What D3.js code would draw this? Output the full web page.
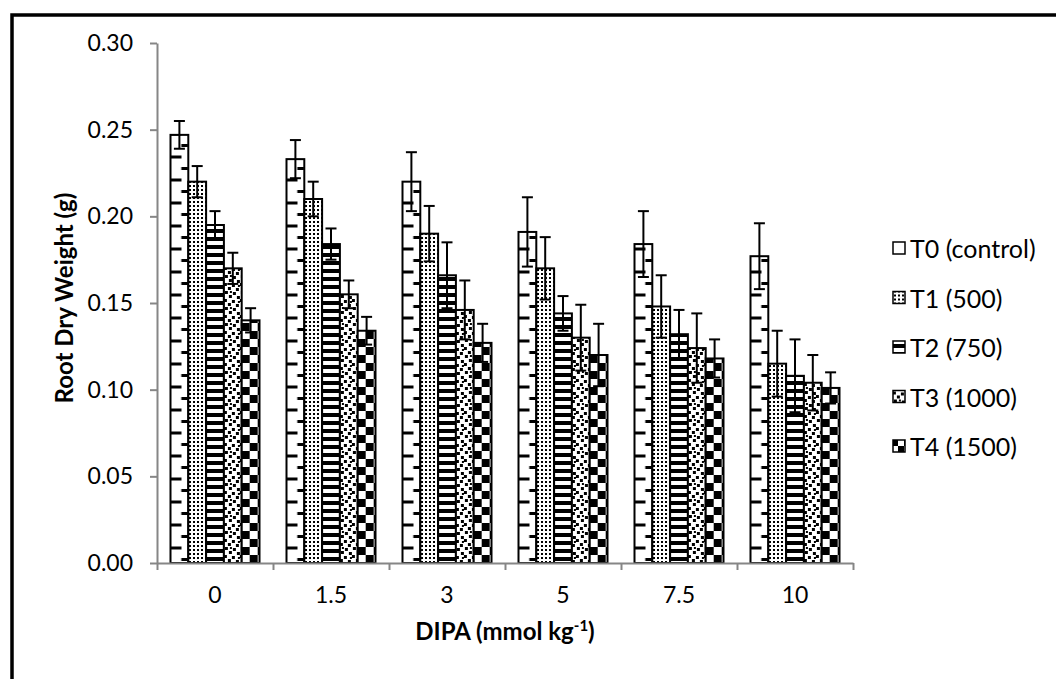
<!DOCTYPE html>
<html>
<head>
<meta charset="utf-8">
<script src="https://cdn.jsdelivr.net/npm/d3@7"></script>
<style>
  body { margin: 0; background: #fff; }
  svg { display: block; }
  text { font-family: Lato, "Open Sans", sans-serif; fill: #000; }
</style>
</head>
<body>
<div id="container"></div>
<script>
// chart data
var categories = ["0", "1.5", "3", "5", "7.5", "10"];
var seriesNames = ["T0 (control)", "T1 (500)", "T2 (750)", "T3 (1000)", "T4 (1500)"];
var T0_mean = [0.247, 0.233, 0.220, 0.191, 0.184, 0.177];
var T0_err  = [0.008, 0.011, 0.017, 0.020, 0.019, 0.019];
var T1_mean = [0.220, 0.210, 0.190, 0.170, 0.148, 0.115];
var T1_err  = [0.009, 0.010, 0.016, 0.018, 0.018, 0.019];
var T2_mean = [0.195, 0.184, 0.166, 0.144, 0.132, 0.108];
var T2_err  = [0.008, 0.009, 0.019, 0.010, 0.014, 0.021];
var T3_mean = [0.170, 0.155, 0.146, 0.130, 0.124, 0.104];
var T3_err  = [0.009, 0.008, 0.017, 0.019, 0.020, 0.016];
var T4_mean = [0.140, 0.134, 0.127, 0.120, 0.118, 0.101];
var T4_err  = [0.007, 0.008, 0.011, 0.018, 0.011, 0.009];
var yTicks = [0, 0.05, 0.10, 0.15, 0.20, 0.25, 0.30];

(function() {
  var means = [T0_mean, T1_mean, T2_mean, T3_mean, T4_mean];
  var errs = [T0_err, T1_err, T2_err, T3_err, T4_err];

  var width = 1056, height = 679;
  var mLeft = 157, mRight = 853, mTop = 43, mBottom = 563;

  var xGroup = d3.scaleBand().domain(categories).range([mLeft, mRight]).padding(0);
  var xSeries = d3.scaleBand().domain(d3.range(5)).range([13.5, xGroup.step() - 13.5]).padding(0);
  var yScale = d3.scaleLinear().domain([0, 0.30]).range([mBottom, mTop]);
  var bw = xSeries.bandwidth();

  var rows = [];
  categories.forEach(function(c, ci) {
    for (var s = 0; s < 5; s++) {
      rows.push({ cat: c, s: s, v: means[s][ci], e: errs[s][ci] });
    }
  });

  var svg = d3.select("#container").append("svg")
    .attr("width", width)
    .attr("height", height);

  svg.append("rect").attr("width", width).attr("height", height).attr("fill", "#fff");

  // fill patterns
  var defs = svg.append("defs");
  var step = xGroup.step();

  // T0: white with short dashes from the left and right edges
  var p0 = defs.append("pattern").attr("id", "pat0")
    .attr("patternUnits", "userSpaceOnUse")
    .attr("x", xGroup(categories[0]) + xSeries(0)).attr("y", yScale(0))
    .attr("width", step).attr("height", 23);
  p0.append("rect").attr("width", step).attr("height", 23).attr("fill", "#fff");
  p0.append("rect").attr("x", 0).attr("y", 6.5).attr("width", 11).attr("height", 3).attr("fill", "#000");
  p0.append("rect").attr("x", bw - 7).attr("y", 18).attr("width", 7).attr("height", 3).attr("fill", "#000");

  // T1: small dots
  var p1 = defs.append("pattern").attr("id", "pat1")
    .attr("patternUnits", "userSpaceOnUse")
    .attr("width", 4).attr("height", 4);
  p1.append("rect").attr("width", 4).attr("height", 4).attr("fill", "#fff");
  p1.append("rect").attr("x", 1).attr("y", 1).attr("width", 2).attr("height", 2).attr("fill", "#000");

  // T2: wide horizontal stripes
  var p2 = defs.append("pattern").attr("id", "pat2")
    .attr("patternUnits", "userSpaceOnUse")
    .attr("y", yScale(0))
    .attr("width", 8).attr("height", 8);
  p2.append("rect").attr("width", 8).attr("height", 8).attr("fill", "#fff");
  p2.append("rect").attr("y", 2).attr("width", 8).attr("height", 4).attr("fill", "#000");

  // T3: large confetti
  var p3 = defs.append("pattern").attr("id", "pat3")
    .attr("patternUnits", "userSpaceOnUse")
    .attr("x", xGroup(categories[0]) + xSeries(3)).attr("y", yScale(0))
    .attr("width", 16).attr("height", 16);
  p3.append("rect").attr("width", 16).attr("height", 16).attr("fill", "#fff");
  [[1, 0, 3, 3], [9, 1, 3, 3], [5, 4, 3, 3], [13, 5, 3, 3], [0, 8, 3, 3],
   [8, 9, 3, 3], [4, 12, 3, 3], [12, 13, 3, 3], [14, 10, 2, 2], [6, 0, 2, 2]].forEach(function(r) {
    p3.append("rect").attr("x", r[0]).attr("y", r[1]).attr("width", r[2]).attr("height", r[3]).attr("fill", "#000");
  });

  // T4: large checkerboard
  var p4 = defs.append("pattern").attr("id", "pat4")
    .attr("patternUnits", "userSpaceOnUse")
    .attr("x", xGroup(categories[0]) + xSeries(4)).attr("y", yScale(0))
    .attr("width", step).attr("height", 16);
  p4.append("rect").attr("width", step).attr("height", 16).attr("fill", "#fff");
  [[0, 0], [8, 8], [16, 0]].forEach(function(r) {
    p4.append("rect").attr("x", r[0]).attr("y", r[1]).attr("width", 8).attr("height", 8).attr("fill", "#000");
  });

  // legend checker tile so the small marker shows the fill
  var lp4 = defs.append("pattern").attr("id", "lpat4")
    .attr("patternUnits", "userSpaceOnUse")
    .attr("x", 893).attr("y", 0)
    .attr("width", 12).attr("height", 12);
  lp4.append("rect").attr("width", 12).attr("height", 12).attr("fill", "#fff");
  lp4.append("rect").attr("width", 6).attr("height", 6).attr("fill", "#000");
  lp4.append("rect").attr("x", 6).attr("y", 6).attr("width", 6).attr("height", 6).attr("fill", "#000");

  // outer frame
  svg.append("rect")
    .attr("x", 12).attr("y", 15)
    .attr("width", 1100).attr("height", 720)
    .attr("fill", "none").attr("stroke", "#000").attr("stroke-width", 3.5);

  // bars
  svg.append("g").selectAll("rect")
    .data(rows)
    .enter()
    .append("rect")
    .attr("x", function(d) { return xGroup(d.cat) + xSeries(d.s); })
    .attr("y", function(d) { return yScale(d.v); })
    .attr("width", bw)
    .attr("height", function(d) { return yScale(0) - yScale(d.v); })
    .attr("fill", function(d) { return "url(#pat" + d.s + ")"; })
    .attr("stroke", "#000")
    .attr("stroke-width", 2);

  // error bars
  var eb = svg.append("g").attr("stroke", "#000").attr("stroke-width", 2);
  rows.forEach(function(d) {
    var cx = xGroup(d.cat) + xSeries(d.s) + bw / 2;
    eb.append("line").attr("x1", cx).attr("x2", cx)
      .attr("y1", yScale(d.v + d.e)).attr("y2", yScale(d.v - d.e));
    eb.append("line").attr("x1", cx - 5.5).attr("x2", cx + 5.5)
      .attr("y1", yScale(d.v + d.e)).attr("y2", yScale(d.v + d.e));
    eb.append("line").attr("x1", cx - 5.5).attr("x2", cx + 5.5)
      .attr("y1", yScale(d.v - d.e)).attr("y2", yScale(d.v - d.e));
  });

  // y axis
  var yAxis = d3.axisLeft(yScale)
    .tickValues(yTicks)
    .tickFormat(d3.format(".2f"))
    .tickSize(7)
    .tickSizeOuter(0)
    .tickPadding(17);
  var gy = svg.append("g").attr("transform", "translate(" + mLeft + ",0)").call(yAxis);
  gy.select(".domain").attr("stroke", "#868686").attr("stroke-width", 2);
  gy.selectAll(".tick line").attr("stroke", "#868686").attr("stroke-width", 2);
  gy.selectAll(".tick text").style("font-size", "23px").attr("fill", "#000");

  // x axis: ticks on group boundaries, labels in the middle
  var xEdges = d3.scaleLinear().domain([0, categories.length]).range([mLeft, mRight]);
  var gxTicks = svg.append("g").attr("transform", "translate(0," + mBottom + ")")
    .call(d3.axisBottom(xEdges).tickValues(d3.range(categories.length + 1)).tickFormat("").tickSize(7).tickSizeOuter(0));
  gxTicks.select(".domain").attr("stroke", "#868686").attr("stroke-width", 2);
  gxTicks.selectAll(".tick line").attr("stroke", "#868686").attr("stroke-width", 2);

  var gxLabels = svg.append("g").attr("transform", "translate(0," + mBottom + ")")
    .call(d3.axisBottom(xGroup).tickSize(0).tickPadding(24));
  gxLabels.select(".domain").remove();
  gxLabels.selectAll(".tick text").style("font-size", "23px").attr("fill", "#000");

  // axis titles
  svg.append("text")
    .attr("transform", "translate(63," + ((mTop + mBottom) / 2 - 5) + ") rotate(-90)")
    .attr("text-anchor", "middle")
    .attr("dominant-baseline", "central")
    .style("font-size", "24px")
    .style("font-weight", "bold")
    .text("Root Dry Weight (g)");

  var xt = svg.append("text")
    .attr("x", (mLeft + mRight) / 2)
    .attr("y", 640)
    .attr("text-anchor", "middle")
    .style("font-size", "24px")
    .style("font-weight", "bold");
  xt.append("tspan").text("DIPA (mmol kg");
  xt.append("tspan").attr("dy", -9).style("font-size", "15px").text("-1");
  xt.append("tspan").attr("dy", 9).text(")");

  // legend
  var legend = svg.append("g").selectAll("g")
    .data(seriesNames)
    .enter()
    .append("g")
    .attr("transform", function(d, i) { return "translate(893," + (248 + i * 49.5) + ")"; });
  legend.append("rect")
    .attr("x", 0).attr("y", -6)
    .attr("width", 12).attr("height", 12)
    .attr("fill", function(d, i) { return i === 4 ? "url(#lpat4)" : "url(#pat" + i + ")"; })
    .attr("stroke", "#000").attr("stroke-width", 1.5);
  legend.append("text")
    .attr("x", 17)
    .attr("y", 0)
    .attr("dominant-baseline", "central")
    .style("font-size", "25px")
    .text(function(d) { return d; });
})();
</script>
</body>
</html>
